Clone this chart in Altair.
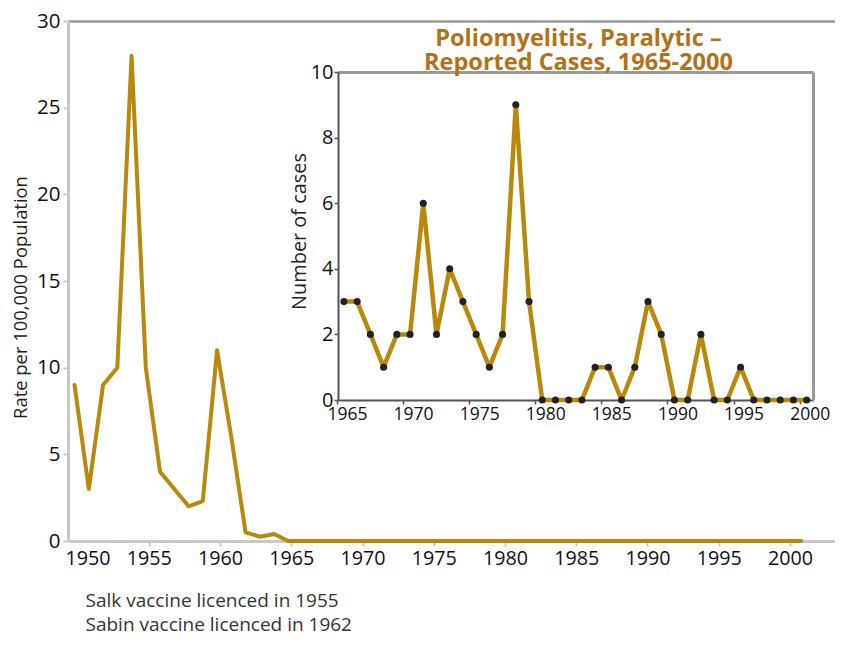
import altair as alt
import pandas as pd

# ---- data ----
main_years = [1950, 1951, 1952, 1953, 1954, 1955, 1956, 1957, 1958, 1959,
              1960, 1961, 1962, 1963, 1964, 1965, 1966, 1967, 1968, 1969,
              1970, 1971, 1972, 1973, 1974, 1975, 1976, 1977, 1978, 1979,
              1980, 1981, 1982, 1983, 1984, 1985, 1986, 1987, 1988, 1989,
              1990, 1991, 1992, 1993, 1994, 1995, 1996, 1997, 1998, 1999,
              2000, 2001]
main_rates = [9, 3, 9, 10, 28, 10, 4, 3, 2, 2.3,
              11, 6, 0.5, 0.25, 0.4, 0, 0, 0, 0, 0,
              0, 0, 0, 0, 0, 0, 0, 0, 0, 0,
              0, 0, 0, 0, 0, 0, 0, 0, 0, 0,
              0, 0, 0, 0, 0, 0, 0, 0, 0, 0,
              0, 0]

inset_years = [1965, 1966, 1967, 1968, 1969, 1970, 1971, 1972, 1973, 1974,
               1975, 1976, 1977, 1978, 1979, 1980, 1981, 1982, 1983, 1984,
               1985, 1986, 1987, 1988, 1989, 1990, 1991, 1992, 1993, 1994,
               1995, 1996, 1997, 1998, 1999, 2000]
inset_cases = [3, 3, 2, 1, 2, 2, 6, 2, 4, 3,
               2, 1, 2, 9, 3, 0, 0, 0, 0, 1,
               1, 0, 1, 3, 2, 0, 0, 2, 0, 0,
               1, 0, 0, 0, 0, 0]

main_x_ticks = [1950, 1955, 1960, 1965, 1970, 1975, 1980, 1985, 1990, 1995, 2000]
main_y_ticks = [0, 5, 10, 15, 20, 25, 30]
inset_x_ticks = [1965, 1970, 1975, 1980, 1985, 1990, 1995, 2000]
inset_y_ticks = [0, 2, 4, 6, 8, 10]

title_lines = ["Poliomyelitis, Paralytic \u2013", "Reported Cases, 1965-2000"]
main_y_title = "Rate per 100,000 Population"
inset_y_title = "Number of cases"
notes = ["Salk vaccine licenced in 1955", "Sabin vaccine licenced in 1962"]

main_df = pd.DataFrame({"year": main_years, "rate": main_rates})
inset_df = pd.DataFrame({"year": inset_years, "cases": inset_cases})

FONT = "Open Sans"
GOLD = "#b8890b"
TITLE_COLOR = "#b3711a"
W, H = 767, 520

main = alt.Chart(main_df).mark_line(
    color=GOLD, strokeWidth=4, strokeJoin="round", strokeCap="round"
).encode(
    x=alt.X("year:Q",
            scale=alt.Scale(domain=[1949.54, 2003.37], nice=False, zero=False),
            axis=alt.Axis(values=main_x_ticks, format="d", orient="bottom",
                          domainColor="#c8c8c8", domainWidth=3,
                          tickColor="#c8c8c8", tickWidth=2, tickSize=5,
                          tickOffset=3,
                          tickOpacity={"condition": {"test": "datum.value == 1950", "value": 0}, "value": 1},
                          labelOffset={"condition": {"test": "datum.value == 1950", "value": 10}, "value": 0},
                          labelFont=FONT, labelFontSize=19.7, labelColor="#111",
                          labelPadding=2, labelFlush=False, labelOverlap=False,
                          grid=False,
                          title=notes, titleFont=FONT, titleFontSize=19,
                          titleFontWeight="normal", titleColor="#333",
                          titleAlign="left", titleAnchor="start",
                          titleBaseline="alphabetic", titleX=17, titleY=65,
                          titleLineHeight=24.5)),
    y=alt.Y("rate:Q",
            scale=alt.Scale(domain=[0, 30], nice=False),
            axis=alt.Axis(values=main_y_ticks, orient="left",
                          domainColor="#c8c8c8", domainWidth=3,
                          tickColor="#c8c8c8", tickWidth=2, tickSize=5,
                          labelFont=FONT, labelFontSize=20.5, labelColor="#111",
                          labelPadding=3, labelFlush=False,
                          grid=True, gridColor="#9a9a9a", gridWidth=2.5,
                          gridOpacity={"condition": {"test": "datum.value == 30", "value": 1}, "value": 0},
                          title=main_y_title, titleFont=FONT, titleFontSize=18.4,
                          titleFontWeight="normal", titleColor="#222",
                          titleAngle=-90, titleAlign="center",
                          titleBaseline="alphabetic", titleX=-42, titleY=276)),
)

inset_x_scale = alt.Scale(domain=[1964.55, 2000.48], range=[270, 745], nice=False, zero=False)
inset_y_scale = alt.Scale(domain=[0, 10], range=[379, 51], nice=False)

inset_line = alt.Chart(inset_df).mark_line(
    color=GOLD, strokeWidth=4.5, strokeJoin="round"
).encode(
    x=alt.X("year:Q", scale=inset_x_scale,
            axis=alt.Axis(values=inset_x_ticks, format="d", orient="bottom", offset=-141,
                          domainColor="#555", domainWidth=2,
                          tickColor="#555", tickWidth=1.5, tickSize=4,
                          tickOffset=-7, labelOffset=10,
                          labelFont=FONT, labelFontSize=17.5, labelColor="#111",
                          labelPadding=1, labelFlush=False, labelOverlap=False,
                          grid=False, title=None)),
    y=alt.Y("cases:Q", scale=inset_y_scale,
            axis=alt.Axis(values=inset_y_ticks, orient="left", offset=-270,
                          domainColor="#555", domainWidth=2,
                          tickColor="#555", tickWidth=1.5, tickSize=4,
                          labelFont=FONT, labelFontSize=20, labelColor="#111",
                          labelPadding=1, labelFlush=False,
                          grid=False,
                          title=inset_y_title, titleFont=FONT, titleFontSize=19.9,
                          titleFontWeight="normal", titleColor="#222",
                          titleAngle=-90, titleAlign="center",
                          titleBaseline="alphabetic", titleX=-33, titleY=210)),
)

inset_points = alt.Chart(inset_df).mark_circle(
    color="#222", size=50, opacity=1
).encode(
    x=alt.X("year:Q", scale=inset_x_scale,
            axis=alt.Axis(orient="top", offset=-51, labels=False, ticks=False,
                          domainColor="#9a9a9a", domainWidth=3, grid=False, title=None)),
    y=alt.Y("cases:Q", scale=inset_y_scale,
            axis=alt.Axis(orient="right", offset=-22, labels=False, ticks=False,
                          domainColor="#9a9a9a", domainWidth=3, grid=False, title=None)),
)

chart = alt.layer(main, inset_line, inset_points).resolve_scale(
    x="independent", y="independent"
).resolve_axis(
    x="independent", y="independent"
).properties(
    width=W, height=H,
    autosize=alt.AutoSizeParams(type="none"),
    padding={"left": 60, "top": 13, "right": 0, "bottom": 95},
    title=alt.TitleParams(
        text=title_lines, anchor="middle", frame="group", orient="top",
        font=FONT, fontSize=23.5, fontWeight="bold", color=TITLE_COLOR,
        lineHeight=24, baseline="top", offset=0, dx=127, dy=63,
    ),
).configure_view(stroke=None)

chart.save("out.html", embed_options={"renderer": "svg", "actions": False})
